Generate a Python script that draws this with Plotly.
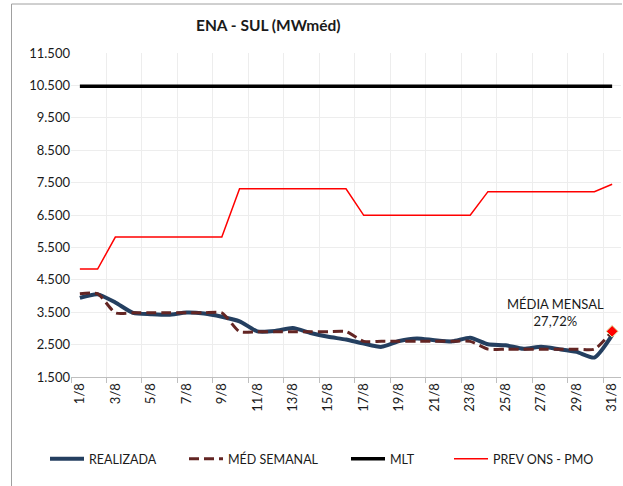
import plotly.graph_objects as go

days = [f"{d}/8" for d in range(1, 32)]

realizada = [3940, 4050, 3800, 3480, 3440, 3420, 3490, 3460, 3360, 3220,
             2910, 2920, 3010, 2860, 2740, 2655, 2530, 2430, 2610, 2690,
             2635, 2600, 2710, 2510, 2480, 2370, 2430, 2360, 2275, 2100, 2790]
med_semanal = [4070, 4070, 3480, 3480, 3480, 3480, 3480, 3480, 3480, 2900,
               2900, 2900, 2900, 2900, 2900, 2900, 2600, 2600, 2600, 2600,
               2600, 2600, 2600, 2360, 2360, 2360, 2360, 2360, 2360, 2360, 2910]
mlt = [10470] * 31
prev_ons = [4830, 4830, 5820, 5820, 5820, 5820, 5820, 5820, 5820, 7310,
            7310, 7310, 7310, 7310, 7310, 7310, 6490, 6490, 6490, 6490,
            6490, 6490, 6490, 7220, 7220, 7220, 7220, 7220, 7220, 7220, 7450]

y_ticks = list(range(1500, 12500, 1000))
x_label_idx = list(range(0, 31, 2))
annot_text = "MÉDIA MENSAL<br>27,72%"
annot_idx = 26.8
annot_y = 3500

FONT = "Lato"
TXT = "#1a1a1a"
xs = list(range(31))

W, H = 623, 486
L, R, T, B = 71, 2, 53, 109
pw = W - L - R
ph = H - T - B

def px2x(px):
    return (px - L) / pw

def py2y(py):
    return (H - B - py) / ph

fig = go.Figure()
fig.add_trace(go.Scatter(x=xs, y=prev_ons, mode="lines", name="PREV ONS - PMO",
                         line=dict(color="#FF0000", width=1.5), legend="legend4"))
fig.add_trace(go.Scatter(x=xs, y=mlt, mode="lines", name="MLT",
                         line=dict(color="#000000", width=3.5), legend="legend3"))
fig.add_trace(go.Scatter(x=xs, y=realizada, mode="lines", name="REALIZADA",
                         line=dict(color="#243F60", width=4, shape="spline", smoothing=0.6),
                         legend="legend"))
fig.add_trace(go.Scatter(x=xs, y=med_semanal, mode="lines", name="MÉD SEMANAL",
                         line=dict(color="#632523", width=3, dash="10px,5px",
                                   shape="spline", smoothing=0.6),
                         legend="legend2"))
fig.add_trace(go.Scatter(x=[xs[-1]], y=[med_semanal[-1]], mode="markers", showlegend=False,
                         marker=dict(symbol="diamond", size=9, color="#FF0000",
                                     line=dict(color="#D8E4A0", width=1))))

grid_c = "#EDEDED"
fig.update_xaxes(range=[-0.5, 30.5], tickmode="array", tickvals=x_label_idx,
                 ticktext=[days[i] for i in x_label_idx], tickangle=-90,
                 ticks="", showgrid=False, zeroline=False, automargin=False,
                 showline=True, linecolor="#BFBFBF", linewidth=1,
                 tickfont=dict(family=FONT, size=13, color=TXT),
                 minor=dict(tickmode="array", tickvals=[i - 0.5 for i in range(0, 32, 2)],
                            ticks="outside", ticklen=5, tickcolor="#BFBFBF",
                            showgrid=True, gridcolor=grid_c, gridwidth=1))
fig.update_yaxes(range=[1500, 11500], tickmode="array", tickvals=y_ticks,
                 tickformat=",d", showgrid=True, gridcolor=grid_c, gridwidth=1,
                 zeroline=False, showline=False, ticks="", automargin=False,
                 tickfont=dict(family=FONT, size=13, color=TXT))

legend_common = dict(orientation="h", yanchor="middle", xanchor="left",
                     y=py2y(459), bgcolor="rgba(0,0,0,0)", borderwidth=0,
                     font=dict(family=FONT, size=12.5, color=TXT),
                     itemwidth=34, tracegroupgap=0)

fig.update_layout(
    width=W, height=H,
    margin=dict(l=L, r=R, t=T, b=B, autoexpand=False),
    paper_bgcolor="white", plot_bgcolor="white",
    separators=",.",
    font=dict(family=FONT),
    showlegend=True,
    legend=dict(x=px2x(45), **legend_common),
    legend2=dict(x=px2x(184), **legend_common),
    legend3=dict(x=px2x(346), **legend_common),
    legend4=dict(x=px2x(449), **legend_common),
    annotations=[
        dict(text="<b>ENA - SUL (MWméd)</b>", xref="paper", yref="paper",
             x=px2x(268), y=py2y(25), xanchor="center", yanchor="middle",
             showarrow=False, font=dict(family=FONT, size=15.5, color=TXT)),
        dict(text=annot_text, xref="x", yref="y", x=annot_idx, y=annot_y,
             xanchor="center", yanchor="middle", showarrow=False,
             font=dict(family=FONT, size=13, color=TXT)),
    ],
    shapes=[
        dict(type="line", xref="paper", yref="paper", x0=px2x(11.5), x1=px2x(11.5),
             y0=py2y(4), y1=py2y(490), line=dict(color="#A0A0A0", width=1)),
        dict(type="line", xref="paper", yref="paper", x0=px2x(11.5), x1=px2x(622),
             y0=py2y(4), y1=py2y(4), line=dict(color="#A0A0A0", width=1)),
    ],
)

fig.write_html("out.html", config={"displayModeBar": False},
               post_script="document.body.style.margin='0';document.body.style.overflow='hidden';")
